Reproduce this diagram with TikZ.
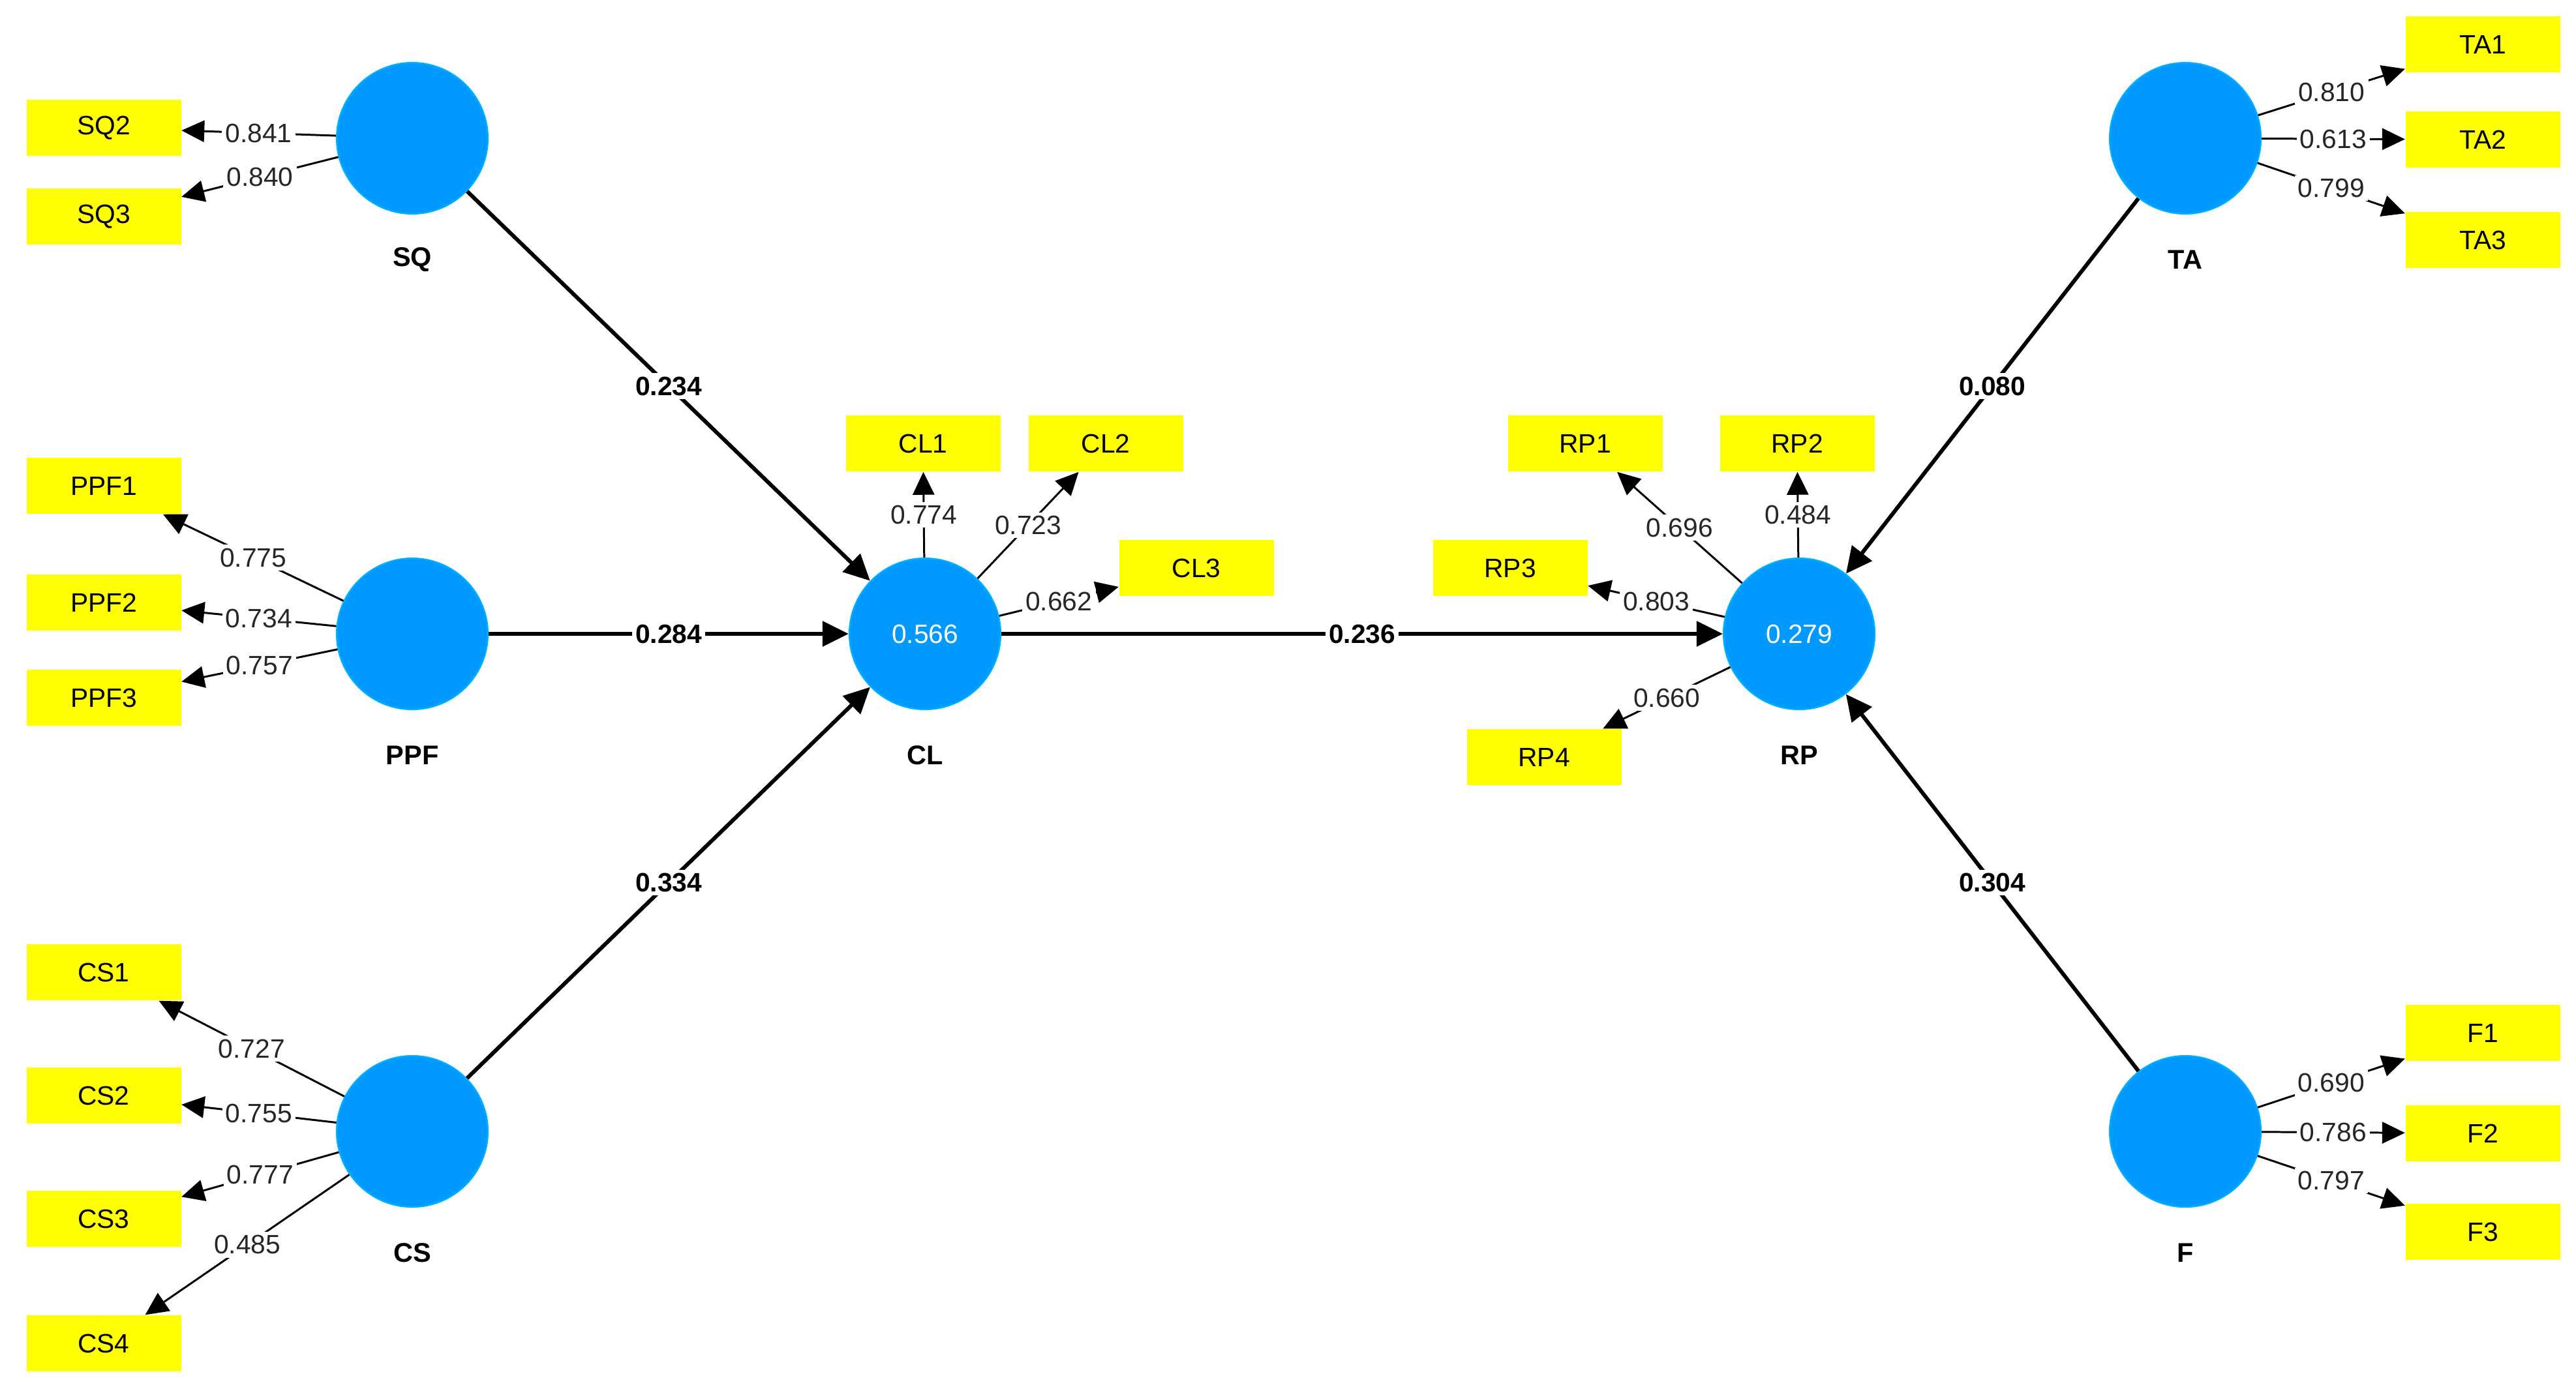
\documentclass[tikz,border=0pt]{standalone}
\usepackage{fontspec}
\setmainfont{Liberation Sans}
\usetikzlibrary{arrows.meta, positioning}
\definecolor{lvblue}{RGB}{0,153,255}
\definecolor{lvedge}{RGB}{0,178,255}
\definecolor{indyellow}{RGB}{255,255,0}

\begin{document}
\begin{tikzpicture}[x=1cm, y=1cm, every node/.style={font=\fontsize{11.6}{13}\selectfont}]
\tikzset{
  lv/.style={circle, fill=lvblue, draw=lvedge, line width=0.6pt, minimum size=2.32cm, inner sep=0pt, text=white},
  lvname/.style={font=\fontsize{11.8}{13}\selectfont\bfseries},
  ind/.style={fill=indyellow, minimum width=2.37cm, minimum height=0.86cm, inner sep=0pt},
  pth/.style={-{Triangle[length=0.4cm, width=0.38cm]}, line width=1.7pt},
  ld/.style={-{Triangle[length=0.35cm, width=0.33cm]}, line width=0.85pt},
  coef/.style={fill=white, inner sep=1.5pt, font=\fontsize{11.6}{13}\selectfont\bfseries},
  wt/.style={fill=white, inner sep=1.5pt, text=black!85},
}
\path[fill=white, use as bounding box] (0,0) rectangle (39.49,-21.26);
% latent variables
\node[lv] (SQ) at (6.32,-2.12) {};
\node[lv] (PPF) at (6.32,-9.72) {};
\node[lv] (CS) at (6.32,-17.35) {};
\node[lv] (CL) at (14.18,-9.72) {0.566};
\node[lv] (RP) at (27.58,-9.72) {0.279};
\node[lv] (TA) at (33.50,-2.12) {};
\node[lv] (F) at (33.50,-17.35) {};
\foreach \n in {SQ,PPF,CS,CL,RP,TA,F}
  \node[lvname] (\n-t) at ([yshift=-1.86cm]\n) {\n};
% indicators
\foreach \n/\x/\y in {SQ2/1.59/-1.96, SQ3/1.59/-3.32,
    PPF1/1.59/-7.45, PPF2/1.59/-9.24, PPF3/1.59/-10.70,
    CS1/1.59/-14.91, CS2/1.59/-16.80, CS3/1.59/-18.69, CS4/1.59/-20.60,
    CL1/14.15/-6.80, CL2/16.95/-6.80, CL3/18.34/-8.71,
    RP1/24.30/-6.80, RP2/27.55/-6.80, RP3/23.15/-8.71, RP4/23.67/-11.61,
    TA1/38.06/-0.68, TA2/38.06/-2.14, TA3/38.06/-3.68,
    F1/38.06/-15.84, F2/38.06/-17.38, F3/38.06/-18.89}
  \node[ind] (\n) at (\x,\y) {\n};
% outer loadings
\foreach \a/\b/\v in {SQ/SQ2/0.841, SQ/SQ3/0.840,
    PPF/PPF1/0.775, PPF/PPF2/0.734, PPF/PPF3/0.757,
    CS/CS1/0.727, CS/CS2/0.755, CS/CS3/0.777, CS/CS4/0.485,
    CL/CL1/0.774, CL/CL2/0.723, CL/CL3/0.662,
    RP/RP1/0.696, RP/RP2/0.484, RP/RP3/0.803, RP/RP4/0.660,
    TA/TA1/0.810, TA/TA2/0.613, TA/TA3/0.799,
    F/F1/0.690, F/F2/0.786, F/F3/0.797}
  \draw[ld] (\a) -- node[wt] {\v} (\b);
% path coefficients
\draw[pth] (SQ) -- node[coef] {0.234} (CL);
\draw[pth] (PPF) -- node[coef] {0.284} (CL);
\draw[pth] (CS) -- node[coef] {0.334} (CL);
\draw[pth] (CL) -- node[coef] {0.236} (RP);
\draw[pth] (TA) -- node[coef] {0.080} (RP);
\draw[pth] (F) -- node[coef] {0.304} (RP);
\end{tikzpicture}
\end{document}
